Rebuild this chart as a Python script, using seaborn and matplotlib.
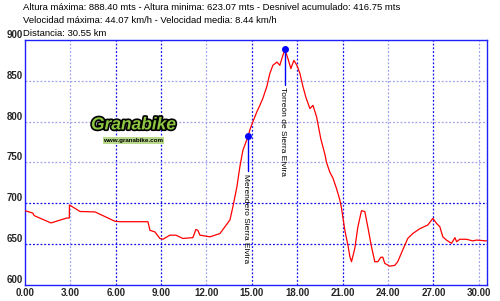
import matplotlib
matplotlib.use("Agg")
import matplotlib.pyplot as plt
import matplotlib.patheffects as pe
import seaborn as sns
import pandas as pd

# ---- data ----
distance_km = [0.00, 0.53, 0.56, 0.66, 1.72, 2.76, 2.93, 2.94, 3.64, 4.63, 5.95, 6.28,
               8.13, 8.26, 8.59, 8.92, 9.12, 9.58, 9.98, 10.44, 11.10, 11.30, 11.43, 11.57,
               12.23, 12.89, 13.55, 13.75, 14.01, 14.21, 14.41, 14.76, 14.87, 15.07, 15.33,
               15.53, 15.73, 15.99, 16.19, 16.39, 16.66, 16.85, 16.99, 17.18, 17.38, 17.58,
               17.78, 17.98, 18.18, 18.38, 18.57, 18.84, 19.04, 19.28, 19.56, 19.83, 19.94,
               20.03, 20.16, 20.36, 20.60, 20.82, 20.93, 21.15, 21.37, 21.48, 21.59, 21.81,
               22.01, 22.25, 22.47, 22.67, 22.91, 23.13, 23.33, 23.53, 23.66, 23.79, 24.12,
               24.45, 24.65, 24.98, 25.31, 25.64, 26.11, 26.64, 26.97, 27.21, 27.43, 27.63,
               27.87, 28.20, 28.43, 28.54, 28.75, 29.19, 29.61, 29.85, 30.51]
altitude_m = [691, 688, 686, 684.5, 676, 682, 682, 698, 690, 689.5, 678, 677.5,
              677.5, 667, 665, 657, 656, 661, 661, 657, 658, 668, 667, 661,
              659, 663, 679.6, 696, 720, 745, 765, 782.5, 790, 800, 812,
              820, 828.6, 843, 859, 869, 873, 869, 877.6, 888.4, 877.6, 865,
              875, 869, 859, 843, 830, 816, 820, 806, 779, 760, 750,
              745, 738, 731, 718, 704, 694, 667, 647, 635, 628.5, 645,
              671, 691, 690, 671, 647, 628.5, 628.5, 634, 634, 626.5, 623.07,
              624, 628.6, 643, 657, 663, 669, 673.5, 681.6, 675.5, 671.4, 659,
              655, 651, 658, 653, 656, 656, 654, 655, 654]

waypoint_names = ["Merendero Sierra Elvira", "Torreón de Sierra Elvira"]
waypoint_km = [14.76, 17.18]
waypoint_alt = [782.5, 888.4]

x_ticks = [0, 3, 6, 9, 12, 15, 18, 21, 24, 27, 30]
y_ticks = [600, 650, 700, 750, 800, 850, 900]

header_lines = [
    "Altura máxima: 888.40 mts - Altura minima: 623.07 mts - Desnivel acumulado: 416.75 mts",
    "Velocidad máxima: 44.07 km/h - Velocidad media: 8.44 km/h",
    "Distancia: 30.55 km",
]

# ---- figure ----
sns.set_style("white")
plt.rcParams["font.family"] = ["Liberation Sans", "DejaVu Sans"]

fig = plt.figure(figsize=(5.0, 3.01), dpi=100)
ax = fig.add_axes([25 / 500, 1 - 285 / 301, (487 - 25) / 500, (285 - 40) / 301])

df = pd.DataFrame({"km": distance_km, "alt": altitude_m})
sns.lineplot(data=df, x="km", y="alt", ax=ax, color="#ff0000", lw=0.9,
             estimator=None, sort=False, zorder=3)

ax.set_xlim(0, 30.55)
ax.set_ylim(600, 900)
ax.set_xticks(x_ticks)
ax.set_xticklabels([f"{v:.2f}" for v in x_ticks])
ax.set_yticks(y_ticks)
ax.set_yticklabels([str(v) for v in y_ticks])
ax.set_xlabel("")
ax.set_ylabel("")
ax.tick_params(axis="x", length=0, labelsize=7, pad=2)
ax.tick_params(axis="y", length=0, labelsize=7, pad=1.5)
for lab in ax.get_xticklabels() + ax.get_yticklabels():
    lab.set_fontweight("bold")
for lab in ax.get_yticklabels():
    lab.set_va("bottom")

for s in ax.spines.values():
    s.set_color("#2020ff")
    s.set_linewidth(1.0)

# grid lines
dark = "#1010f0"
light = "#a0a0ee"
xcols = {3: light, 6: dark, 9: dark, 12: light, 15: dark, 18: dark, 21: dark,
         24: light, 27: dark, 30: light}
for v in x_ticks[1:]:
    ax.axvline(v, color=xcols[v], lw=0.9, ls=(0, (1.5, 1.5)), zorder=1)
ycols = {650: dark, 700: dark, 750: light, 800: light, 850: light}
for v in y_ticks[1:-1]:
    ax.axhline(v, color=ycols[v], lw=0.9, ls=(0, (1.5, 1.5)), zorder=1)

# waypoints
for name, km, alt in zip(waypoint_names, waypoint_km, waypoint_alt):
    ax.plot([km, km], [alt, alt - 43], color="#0000ff", lw=1.0, zorder=4)
    ax.plot([km], [alt], "o", color="#0000ff", ms=4, zorder=5)
    ax.text(km + 0.05, alt - 46, name, rotation=-90, ha="left", va="top",
            fontsize=6, color="black", zorder=5, rotation_mode="anchor")

# logo
fig.text(0.267, 0.585, "Granabike", fontsize=12.5, fontweight="bold", style="italic",
         color="#8dc63f", ha="center", va="center",
         path_effects=[pe.withStroke(linewidth=2.4, foreground="black")])
fig.text(0.267, 0.532, "www.granabike.com", fontsize=4.5, fontweight="bold",
         color="black", ha="center", va="center",
         bbox=dict(boxstyle="square,pad=0.15", fc="#b8d98a", ec="none"))

# header
for i, line in enumerate(header_lines):
    fig.text(23 / 500, 1 - (2.5 + 13.5 * i) / 301, line, fontsize=6.8,
             ha="left", va="top", color="black")

fig.savefig("out.png", dpi=100, facecolor="white")
